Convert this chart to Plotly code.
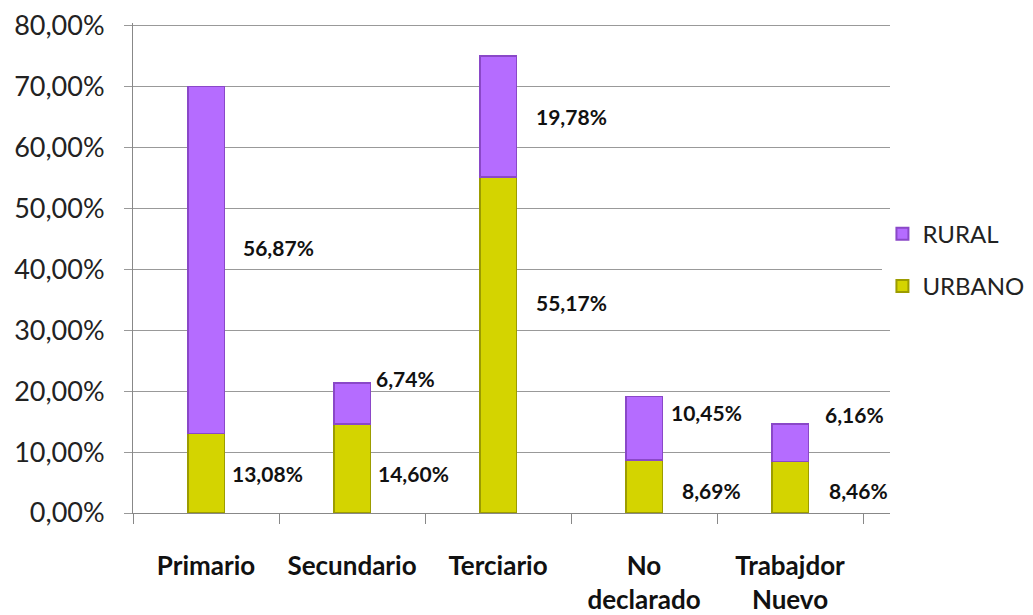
import plotly.graph_objects as go

categories = ["Primario", "Secundario", "Terciario", "No<br>declarado", "Trabajdor<br>Nuevo"]
urbano = [13.08, 14.60, 55.17, 8.69, 8.46]
rural = [56.87, 6.74, 19.78, 10.45, 6.16]
y_ticks = [0, 10, 20, 30, 40, 50, 60, 70, 80]

# small nudges so the labels sit where the original had them (px)
urb_shift = [(24, 0), (24, -5), (36, 42), (36, -4), (37, -3)]
rur_shift = [(35, 12), (22, 25), (36, 0), (25, 16), (33, 28)]

purple = "#B56CFF"
yellow = "#D4D400"
font = "Lato, sans-serif"

fig = go.Figure()
fig.add_trace(go.Bar(
    x=categories, y=urbano, name="URBANO", legendrank=2, legendgroup="u",
    marker=dict(color=yellow, line=dict(color="#9C9C00", width=1.5)),
))
fig.add_trace(go.Bar(
    x=categories, y=rural, name="RURAL", legendrank=1, legendgroup="r",
    marker=dict(color=purple, line=dict(color="#8A48C8", width=1.5)),
))

def fmt(v):
    return f"{v:.2f}%".replace(".", ",")

for i, cat in enumerate(categories):
    fig.add_annotation(x=cat, y=urbano[i] / 2, text=fmt(urbano[i]),
                       xanchor="left", showarrow=False,
                       xshift=urb_shift[i][0], yshift=urb_shift[i][1],
                       font=dict(family=font, size=21, color="#111", weight="bold"))
    fig.add_annotation(x=cat, y=urbano[i] + rural[i] / 2, text=fmt(rural[i]),
                       xanchor="left", showarrow=False,
                       xshift=rur_shift[i][0], yshift=rur_shift[i][1],
                       font=dict(family=font, size=21, color="#111", weight="bold"))

fig.update_layout(
    width=1033, height=615,
    barmode="stack", bargap=0.75,
    plot_bgcolor="white", paper_bgcolor="white",
    margin=dict(l=125, r=151, t=15, b=110),
    showlegend=True,
    legend=dict(x=0.99, y=0.516, yanchor="middle", xanchor="left",
                traceorder="grouped", tracegroupgap=18, itemsizing="constant",
                font=dict(family=font, size=24, color="#222")),
    xaxis=dict(
        automargin=False, tickangle=0,
        tickson="boundaries", ticks="outside", ticklen=10, tickcolor="#888",
        showline=True, linecolor="#888", linewidth=1,
        ticklabelstandoff=30,
        tickfont=dict(family=font, size=26, color="#111", weight="bold"),
    ),
    yaxis=dict(
        automargin=False,
        range=[0, 80.4], tickmode="array", tickvals=y_ticks,
        ticktext=[fmt(v) for v in y_ticks], ticklabeloverflow="allow",
        showgrid=True, gridcolor="#999", gridwidth=1,
        showline=True, linecolor="#888", ticks="outside", ticklen=8, tickcolor="#999",
        zeroline=False, ticklabelstandoff=14,
        tickfont=dict(family=font, size=27, color="#222"),
    ),
)

fig.write_html("out.html")
